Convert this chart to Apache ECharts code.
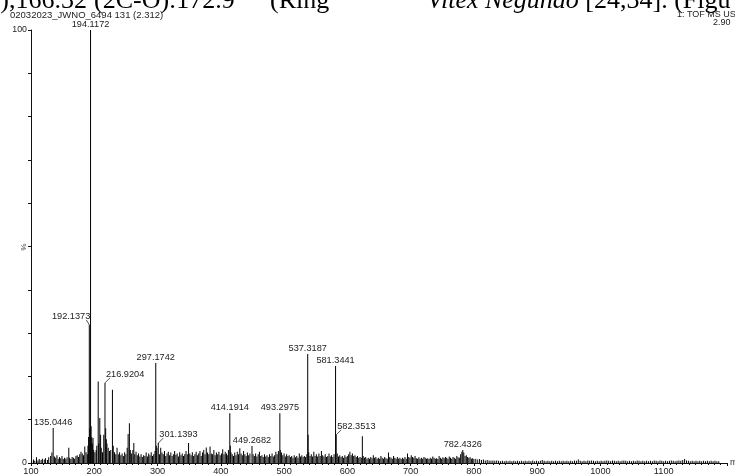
<!DOCTYPE html>
<html>
<head>
<meta charset="utf-8">
<script src="https://cdn.jsdelivr.net/npm/echarts@6/dist/echarts.min.js"></script>
<style>
html,body{margin:0;padding:0;background:#fff;}
#chart{width:735px;height:476px;}
</style>
</head>
<body>
<div id="chart"></div>
<script>
// ---- Data ----
const title = "02032023_JWNO_6494 131 (2.312)";
const headerRight1 = "1: TOF MS US";
const headerRight2 = "2.90";
const xTicks = ["100","200","300","400","500","600","700","800","900","1000","1100"];

// peak m/z values
const peakMz = [
101,104,106,108.7,111,113,116,118,121,123,126,128,131,133,135.0446,137,139,141,143,145,147,149,151,153,155,157,159.7,161,163,165,167,169,171,173,175,177,179,181,183,185,187,189,190,191,
192.1373,193,194.1172,195,196,197,198,199,201,203,204,206.2,207,208.7,210,211,213,215,216.9204,218,219,220,222,224,226,228.7,230,232,234,236,238,240,242,244,246,248,250,252,253.5,255.5,257,259,261,262.5,264,266,268,270,272,274,276,278,280,282,284,286,288,290,292,294,296,297.1742,298,299,301.1393,303,305,307,309,311,313,315,317,319,321,323,325,327,329,331,333,335,337,339,341,343,345,347,349,351,353,355,357,359,361,363,365,367,369,371,373,375,377,379,381,383,385,387,389,391,393,395,397,399,401,403,405,407,409,411,412,414.1914,415,416,418,420,422,424,426,428,430,432,434,436,438,440,442,444,446,449.2682,451,453,455,457,459,461,463,465,467,469,471,473,475,477,479,481,483,485,487,489,491,493.2975,494,496,498,500,502,504,506,508,510,512,514,516,518,520,522,524,526,528,530,532,534,536,537.3187,538,539,541,543,545,547,549,551,553,555,557,559,561,563,565,567,569,571,573,575,577,579,581.3441,582.3513,584,586,588,590,592,594,596,598,600,602,604,606,608,610,612,614,616,618,620,622,623.7,625,627,629,631,633,635,637,639,641,643,645,647,649,651,653,655,657,659,661,663,665,667,669,671,673,675,677,679,681,683,685,687,689,691,693,695,697,699,701,703,705,707,709,711,713,715,717,719,721,723,725,727,729,731,733,735,737,739,741,743,745,747,749,751,753,755,757,759,761,763,765,767,769,771,773,775,777,779,781,782.4326,784,786,788,790,792,794,796,798,800,803,806,809,812,815,818,821,824,827,830,833,836,839,842,845,848,851,854,857,860,863,866,869,872,875,878,881,884,887,890,893,896,899,902,905,908,911,914,917,920,923,926,929,932,935,938,941,944,947,950,953,956,959,962,965,968,971,974,977,980,983,986,989,992,995,998,1001,1004,1007,1010,1013,1016,1019,1022,1025,1028,1031,1034,1037,1040,1043,1046,1049,1052,1055,1058,1061,1064,1067,1070,1073,1076,1079,1082,1085,1088,1091,1094,1097,1100,1103,1106,1109,1112,1115,1118,1121,1124,1127,1130,1133,1136,1139,1142,1145,1148,1151,1154,1157,1160,1163,1166,1169,1172,1175,1178,1181,1184,1187
];
// relative intensities (%)
const peakInt = [
0.6,0.8,0.5,1.3,0.6,0.9,0.7,1.0,0.8,1.1,0.7,1.3,1.6,2.4,8.1,1.5,1.2,1.8,1.0,1.4,1.1,1.6,0.9,1.2,1.0,1.3,3.5,1.2,0.9,1.4,1.2,1.0,1.6,1.8,1.4,2.0,2.6,2.2,1.8,3.8,2.5,2.0,4.0,6.0,
31.9,8.0,100,8.5,6.0,4.5,5.8,3.0,2.5,3.0,4.0,18.8,4.5,10.4,6.5,3.5,2.5,6.5,18.5,8.0,5.5,4.5,3.5,2.8,3.0,16.9,4.0,2.5,2.0,3.5,2.0,2.5,1.8,2.2,1.6,2.5,2.0,3.5,6.7,9.2,3.0,2.2,3.0,4.6,2.0,2.6,1.8,2.2,1.5,2.0,1.4,1.8,1.6,2.4,1.5,2.2,1.8,2.5,1.6,2.0,2.8,23.1,4.0,3.5,4.6,2.0,3.5,2.4,2.0,2.8,1.6,2.2,2.6,1.8,2.4,1.6,2.0,2.8,1.9,2.2,1.5,2.5,1.8,2.2,1.6,2.0,2.8,2.0,4.6,2.2,1.8,2.5,1.6,2.0,2.6,1.8,2.2,2.8,1.6,2.4,3.0,2.0,3.6,2.4,2.0,3.8,2.2,2.0,3.0,1.8,2.4,2.0,2.6,1.8,2.2,3.2,2.0,2.6,2.2,1.8,3.0,11.5,4.0,2.5,2.0,1.6,2.4,1.8,2.6,2.0,3.4,2.2,1.8,2.8,2.0,1.6,2.4,1.8,2.2,3.9,2.0,1.6,2.2,1.5,2.0,2.6,1.6,1.8,1.4,2.0,1.5,1.8,1.4,2.0,1.6,2.2,1.5,1.8,2.6,2.0,2.8,11.5,3.0,2.4,1.8,2.2,1.5,2.0,1.6,1.8,1.4,1.6,1.2,1.8,1.3,1.6,1.2,2.2,1.5,1.8,1.4,1.6,1.4,2.0,25.2,6.5,2.5,1.6,2.0,1.5,2.6,1.6,2.0,1.5,2.2,1.6,2.8,1.8,1.5,2.0,1.4,1.6,2.2,1.5,1.8,1.4,2.0,22.4,6.5,2.2,1.5,1.8,1.4,1.6,1.2,1.8,1.4,1.6,2.0,2.6,1.8,2.2,1.6,1.8,1.4,1.6,1.2,1.4,1.2,6.2,1.6,1.2,1.4,1.0,1.2,1.0,1.4,1.1,1.8,1.2,1.4,1.0,1.2,1.0,1.6,1.2,1.0,1.4,1.1,1.0,2.4,1.4,1.2,1.0,1.6,1.2,1.0,1.4,1.0,1.2,0.9,1.2,1.0,1.4,1.0,2.2,1.4,1.2,1.8,1.4,1.2,1.6,1.1,1.0,1.3,1.0,1.2,1.0,1.4,1.2,1.0,1.1,0.9,1.2,1.0,1.5,1.2,1.0,1.1,0.9,1.6,1.2,1.0,1.3,1.1,1.4,1.2,1.0,1.5,1.2,1.0,1.4,1.2,1.0,1.6,1.3,1.2,2.0,2.6,3.0,2.4,1.6,1.8,1.4,1.2,1.3,1.0,1.1,0.9,1.0,0.8,0.9,0.7,0.8,0.6,0.7,0.6,0.5,0.6,0.5,0.6,0.5,0.4,0.5,0.4,0.5,0.4,0.5,0.4,0.5,0.4,0.5,0.4,0.5,0.4,0.5,0.4,0.5,0.4,0.6,0.4,0.5,0.4,0.5,0.7,0.5,0.4,0.5,0.4,0.5,0.4,0.5,0.4,0.5,0.4,0.5,0.4,0.5,0.4,0.5,0.4,0.6,0.5,0.8,0.5,0.4,0.5,0.4,0.6,0.5,0.6,0.5,0.4,0.5,0.4,0.5,0.4,0.5,0.6,0.5,0.4,0.6,0.5,0.4,0.5,0.4,0.5,0.6,0.5,0.4,0.5,0.4,0.5,0.4,0.6,0.5,0.4,0.5,0.4,0.5,0.4,0.5,0.4,0.6,0.5,0.4,0.6,0.5,0.4,0.5,0.4,0.5,0.6,0.5,0.4,0.5,0.6,0.5,0.7,0.9,0.6,0.5,0.4,0.5,0.4,0.5,0.4,0.5,0.4,0.5,0.4,0.5,0.4,0.5,0.4,0.5,0.4,0.4,0.3,0.4
];

// annotated peaks
const labelMz  = [135.0446,192.1373,194.1172,216.9204,297.1742,301.1393,414.1914,449.2682,493.2975,537.3187,581.3441,582.3513,782.4326];
const labelInt = [8.1,31.9,100,18.5,23.1,4.6,11.5,3.9,11.5,25.2,22.4,6.5,3.0];
const labelText = ["135.0446","192.1373","194.1172","216.9204","297.1742","301.1393","414.1914","449.2682","493.2975","537.3187","581.3441","582.3513","782.4326"];
// label placement style: C = centred above, L = left with leader, R = right with leader
const labelMode = ["C","L","C","R","C","R","C","C","C","C","C","R","C"];

// ---- Chart ----
const FONT = "Liberation Sans";
const peaks = peakMz.map((m,i)=>[m, peakInt[i]]);
const labels = labelMz.map((m,i)=>[m, labelInt[i], i]);

const chart = echarts.init(document.getElementById('chart'), null, {renderer:'canvas'});
chart.setOption({
  animation:false,
  backgroundColor:'#fff',
  grid:{left:31, right:8, top:30, bottom:13, containLabel:false, outerBoundsMode:'none'},
  xAxis:{
    type:'value', min:100, max:1200, interval:100,
    name:'m/z', nameLocation:'end', nameGap:3,
    nameTextStyle:{fontFamily:FONT, fontSize:9, color:'#333', verticalAlign:'middle'},
    axisLine:{show:true, onZero:false, lineStyle:{color:'#111', width:1}},
    axisTick:{show:true, length:3, lineStyle:{color:'#111'}},
    minorTick:{show:true, splitNumber:10, length:2, lineStyle:{color:'#111'}},
    splitLine:{show:false},
    axisLabel:{fontFamily:FONT, fontSize:9.2, color:'#222', margin:4,
      formatter:(v)=>{const s=String(v); return xTicks.indexOf(s)>=0 ? s : '';}}
  },
  yAxis:{
    type:'value', min:0, max:100, interval:10,
    axisLine:{show:true, lineStyle:{color:'#111', width:1}},
    axisTick:{show:true, length:3, lineStyle:{color:'#111'}},
    splitLine:{show:false},
    axisLabel:{fontFamily:FONT, fontSize:8.8, color:'#222', margin:4,
      formatter:(v)=> (v===0||v===100) ? String(v) : ''}
  },
  graphic:[
    {type:'text', left:-7, top:-12, style:{text:'l),166.32', font:'26px "Liberation Serif"', fill:'#000'}},
    {type:'text', left:94, top:-12, style:{text:'(2C-O):172.9', font:'26px "Liberation Serif"', fill:'#000'}},
    {type:'text', left:270, top:-12, style:{text:'(Ring', font:'26px "Liberation Serif"', fill:'#000'}},
    {type:'text', left:427, top:-12, style:{text:'{i|Vitex Negundo} [24,34]. (Figu', font:'26px "Liberation Serif"', fill:'#000',
      rich:{i:{fontStyle:'italic', fontFamily:'Liberation Serif', fontSize:26}}}},
    {type:'text', left:10, top:10, style:{text:title, font:'9.5px "Liberation Sans"', fill:'#222'}},
    {type:'text', left:677, top:10, style:{text:headerRight1, font:'9px "Liberation Sans"', fill:'#222'}},
    {type:'text', left:713, top:18, style:{text:headerRight2, font:'9px "Liberation Sans"', fill:'#222'}},
    {type:'text', x:23, y:247, rotation:-Math.PI/2, style:{text:'%', font:'8px "Liberation Sans"', fill:'#444', align:'center', verticalAlign:'middle'}}
  ],
  series:[
    {
      type:'bar', data:peaks, barWidth:1, barGap:'-100%',
      itemStyle:{color:'#000'}, silent:true
    },
    {
      type:'custom', data:labels, silent:true, z:10,
      renderItem:(params, api)=>{
        const p = api.coord([api.value(0), api.value(1)]);
        const mode = labelMode[params.dataIndex];
        const txt = labelText[params.dataIndex];
        const font = '9.2px "Liberation Sans"';
        const children = [];
        if(mode==='C'){
          children.push({type:'text', style:{text:txt, x:p[0], y:p[1]-1, align:'center', verticalAlign:'bottom', font:font, fill:'#222'}});
        } else if(mode==='L'){
          children.push({type:'polyline', shape:{points:[[p[0],p[1]],[p[0]-3,p[1]-5]]}, style:{stroke:'#555', lineWidth:1, fill:null}});
          children.push({type:'text', style:{text:txt, x:p[0]+1, y:p[1]-4, align:'right', verticalAlign:'bottom', font:font, fill:'#222'}});
        } else {
          children.push({type:'polyline', shape:{points:[[p[0],p[1]],[p[0]+5,p[1]-5]]}, style:{stroke:'#555', lineWidth:1, fill:null}});
          children.push({type:'text', style:{text:txt, x:p[0]+1, y:p[1]-4, align:'left', verticalAlign:'bottom', font:font, fill:'#222'}});
        }
        return {type:'group', children:children};
      }
    }
  ]
});
</script>
</body>
</html>
